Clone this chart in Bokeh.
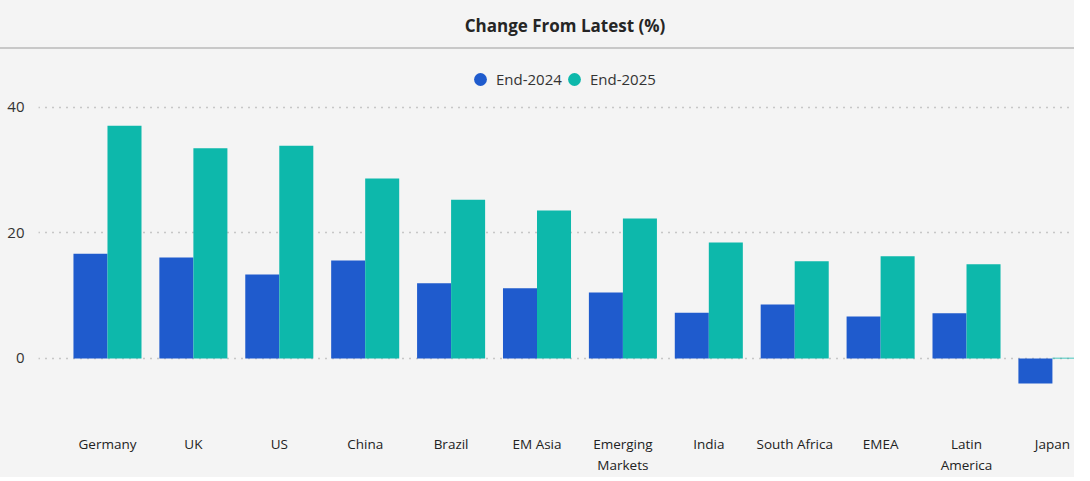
from bokeh.plotting import figure
from bokeh.models import FixedTicker, Range1d, Div, Legend, LegendItem, ColumnDataSource
from bokeh.layouts import column
from bokeh.transform import dodge
from bokeh.embed import file_html
from bokeh.resources import INLINE

categories = ["Germany", "UK", "US", "China", "Brazil", "EM Asia", "Emerging\nMarkets",
              "India", "South Africa", "EMEA", "Latin\nAmerica", "Japan"]
end_2024 = [16.7, 16.1, 13.4, 15.6, 12.0, 11.2, 10.5, 7.3, 8.6, 6.7, 7.2, -4.0]
end_2025 = [37.1, 33.5, 33.9, 28.7, 25.3, 23.6, 22.3, 18.5, 15.5, 16.3, 15.0, 0.1]
y_ticks = [0, 20, 40]
series_names = ["End-2024", "End-2025"]

BLUE = "#1F5BCD"
TEAL = "#0DB8AB"
BG = "#F4F4F4"
FONT = "Open Sans"

idx = list(range(len(categories)))
src = ColumnDataSource(dict(x=idx, a=end_2024, b=end_2025))

title = Div(
    text="Change From Latest (%)",
    width=1074, height=49,
    styles={
        "font-family": FONT, "font-weight": "bold", "font-size": "17px",
        "line-height": "20px",
        "color": "#252525", "text-align": "center", "width": "1074px",
        "box-sizing": "border-box", "padding-top": "16px", "padding-left": "56px",
        "border-bottom": "2px solid #C8C8C8", "background-color": BG,
        "height": "49px", "margin": "0",
    },
)

p = figure(width=1074, height=428, output_backend="svg", toolbar_location=None,
           x_range=Range1d(-0.803, 11.257), y_range=Range1d(-10.68, 47.17),
           min_border_left=38, min_border_right=0, min_border_top=13, min_border_bottom=52,
           background_fill_color=BG, border_fill_color=BG, outline_line_color=None)

w = 0.396
p.vbar(x=dodge("x", -w / 2, range=p.x_range), top="a", width=w, source=src,
       fill_color=BLUE, line_color=None)
p.vbar(x=dodge("x", w / 2, range=p.x_range), top="b", width=w, source=src,
       fill_color=TEAL, line_color=None)

r1 = p.scatter([0], [-1000], marker="circle", size=13, fill_color=BLUE, line_color=None)
r2 = p.scatter([0], [-1000], marker="circle", size=13, fill_color=TEAL, line_color=None)

for name, rend, xloc in zip(series_names, [r1, r2], [426, 520]):
    lg = Legend(items=[LegendItem(label=name, renderers=[rend])],
                location=(xloc, 330), orientation="horizontal",
                background_fill_alpha=0, border_line_color=None,
                label_text_font=FONT, label_text_font_size="15px", label_text_color="#333333",
                glyph_width=32, glyph_height=32, label_standoff=0, spacing=0,
                padding=0, margin=0)
    p.add_layout(lg, "center")

p.xaxis.ticker = FixedTicker(ticks=idx)
p.xaxis.major_label_overrides = {i: c for i, c in zip(idx, categories)}
p.xaxis.axis_line_color = None
p.xaxis.major_tick_line_color = None
p.xaxis.minor_tick_line_color = None
p.xaxis.major_label_standoff = 3
p.xaxis.major_label_text_font = FONT
p.xaxis.major_label_text_font_size = "13.5px"
p.xaxis.major_label_text_color = "#222222"

p.yaxis.ticker = FixedTicker(ticks=y_ticks)
p.yaxis.axis_line_color = None
p.yaxis.major_tick_line_color = None
p.yaxis.minor_tick_line_color = None
p.yaxis.major_label_standoff = 8
p.yaxis.major_label_text_font = FONT
p.yaxis.major_label_text_font_size = "15px"
p.yaxis.major_label_text_color = "#333333"

p.xgrid.grid_line_color = None
p.ygrid.grid_line_color = "#9A9A9A"
p.ygrid.grid_line_dash = "1 6"
p.ygrid.grid_line_width = 1.5

layout = column(title, p, spacing=0, styles={"background-color": BG})
open("out.html", "w").write(file_html(layout, INLINE))
